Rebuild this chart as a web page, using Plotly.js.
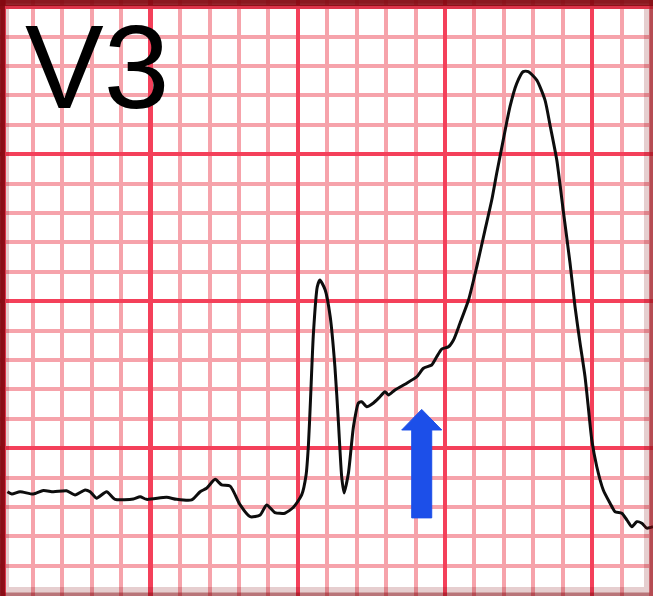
<!DOCTYPE html>
<html>
<head>
<meta charset="utf-8">
<script src="https://cdn.plot.ly/plotly-3.0.1.min.js"></script>
<style>html,body{margin:0;padding:0;background:#fff;}#chart{width:653px;height:596px;}</style>
</head>
<body>
<div id="chart"></div>
<script>
// ECG lead V3 — values in small boxes (1 mm = 40 ms horizontally, 0.1 mV vertically)
const leadLabel = "V3";
const timeMm = [0.13,0.28,0.56,1.01,1.35,1.69,2.14,2.43,2.77,2.94,3.16,3.50,3.79,4.41,4.64,4.86,5.54,5.88,6.39,6.68,6.90,7.19,7.41,7.70,8.04,8.38,8.72,8.94,9.22,9.56,9.85,10.13,10.28,10.36,10.43,10.53,10.66,10.75,10.93,11.10,11.26,11.38,11.49,11.57,11.72,11.89,12.06,12.17,12.34,12.57,12.79,12.96,13.08,13.30,13.70,14.04,14.27,14.55,14.72,14.89,15.12,15.29,15.51,15.80,16.08,16.36,16.59,16.76,16.98,17.21,17.44,17.66,17.83,18.12,18.40,18.58,18.80,19.03,19.25,19.42,19.59,19.76,19.87,19.99,20.16,20.38,20.61,20.78,21.01,21.18,21.35,21.52,21.69,21.86,22.07];
const voltMm = [-1.48,-1.56,-1.48,-1.56,-1.44,-1.48,-1.45,-1.59,-1.42,-1.48,-1.70,-1.48,-1.74,-1.73,-1.65,-1.74,-1.67,-1.74,-1.76,-1.48,-1.36,-1.06,-1.25,-1.29,-1.93,-2.33,-2.27,-1.93,-2.19,-2.21,-2.01,-1.59,-0.91,0.11,1.64,3.92,5.49,5.72,5.38,4.47,2.77,0.86,-0.97,-1.52,-0.84,0.73,1.54,1.58,1.41,1.54,1.75,1.92,1.81,1.98,2.21,2.43,2.72,2.83,3.11,3.37,3.45,3.68,4.25,5.04,6.17,7.42,8.44,9.36,10.48,11.62,12.41,12.81,12.81,12.52,11.84,10.94,9.80,8.00,6.30,4.81,3.58,2.43,1.41,0.28,-0.63,-1.42,-1.87,-2.16,-2.21,-2.44,-2.67,-2.50,-2.55,-2.72,-2.67];

// arrow pointing at the ST segment (tip, head base, head half-width, shaft half-width, shaft bottom)
const arrowTip = [14.21, 1.32];
const arrowHeadBaseY = 0.62;
const arrowHeadHalf = 0.68;
const arrowShaftHalf = 0.34;
const arrowBottomY = -2.37;

const ax = arrowTip[0];
const arrowPath = `M${ax},${arrowTip[1]} L${ax+arrowHeadHalf},${arrowHeadBaseY} L${ax+arrowShaftHalf},${arrowHeadBaseY} L${ax+arrowShaftHalf},${arrowBottomY} L${ax-arrowShaftHalf},${arrowBottomY} L${ax-arrowShaftHalf},${arrowHeadBaseY} L${ax-arrowHeadHalf},${arrowHeadBaseY} Z`;

const minorGrid = {dtick: 1, tick0: 0, showgrid: true, gridcolor: "#f6a3ab", gridwidth: 4, ticks: ""};
const axisCommon = {showticklabels: false, zeroline: false, showline: false, ticks: "", fixedrange: true};

const trace = {
  x: timeMm, y: voltMm, type: "scatter", mode: "lines",
  line: {color: "#0d0d0d", width: 3, shape: "spline", smoothing: 0.6},
  hoverinfo: "skip"
};

const frame = "rgba(130,8,16,";
const layout = {
  width: 653, height: 596,
  margin: {l: 0, r: 0, t: 0, b: 0, pad: 0},
  paper_bgcolor: "#ffffff", plot_bgcolor: "#ffffff",
  showlegend: false,
  xaxis: Object.assign({}, axisCommon, {range: [-0.122, 22.07], tick0: 0, dtick: 5, gridcolor: "#f4405a", gridwidth: 4.5, showgrid: true, minor: minorGrid}),
  yaxis: Object.assign({}, axisCommon, {range: [-5.027, 15.245], tick0: 0, dtick: 5, gridcolor: "#f4405a", gridwidth: 4.5, showgrid: true, minor: minorGrid}),
  shapes: [
    {type: "path", xref: "x", yref: "y", path: arrowPath, fillcolor: "#1c4fe9", line: {color: "#1c4fe9", width: 1}, layer: "above"},
    // dark frame with soft glow
    {type: "rect", xref: "paper", yref: "paper", x0: 0, x1: 1, y0: 0, y1: 1, line: {color: frame + "0.2)", width: 18}, layer: "above"},
    {type: "rect", xref: "paper", yref: "paper", x0: 0, x1: 1, y0: 0, y1: 1, line: {color: frame + "0.45)", width: 7}, layer: "above"},
    {type: "line", xref: "paper", yref: "paper", x0: 0, x1: 1, y0: 1, y1: 1, line: {color: frame + "0.85)", width: 12}, layer: "above"},
    {type: "line", xref: "paper", yref: "paper", x0: 0, x1: 0, y0: 0, y1: 1, line: {color: frame + "0.85)", width: 10}, layer: "above"}
  ],
  annotations: [
    {text: leadLabel, xref: "paper", yref: "paper", x: 24/653, y: 1, xanchor: "left", yanchor: "top", showarrow: false,
     borderpad: 0, font: {family: "Liberation Sans, Arial, sans-serif", size: 118, color: "#000000"}}
  ]
};

Plotly.newPlot("chart", [trace], layout, {staticPlot: true, displayModeBar: false});
</script>
</body>
</html>
